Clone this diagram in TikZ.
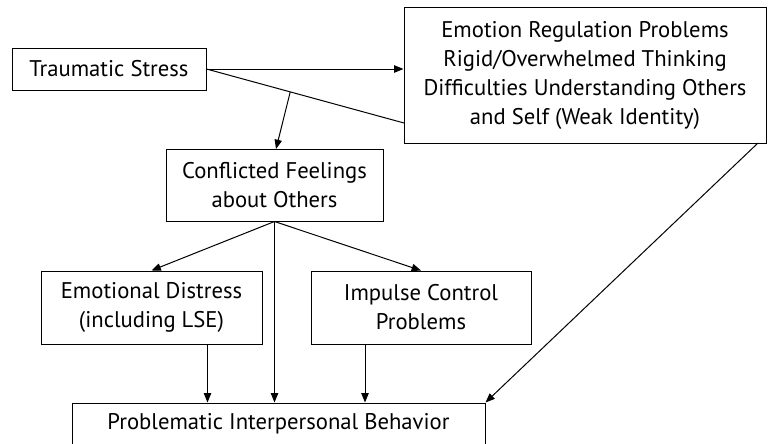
\documentclass[tikz,border=0pt]{standalone}
\usepackage{fontspec}
\setmainfont{PT Sans}
\usetikzlibrary{arrows.meta,calc}
\begin{document}
\begin{tikzpicture}[x=0.75pt,y=-0.75pt,
  box/.style={draw,line width=0.75pt,inner sep=0pt,align=center,font=\fontsize{17}{21.75}\selectfont},
  arr/.style={line width=0.75pt,-{Triangle[length=7pt,width=5.5pt]}},
  ln/.style={line width=0.75pt}]
\useasboundingbox (0,0) rectangle (768,443);
\node[box,minimum width=145.5pt,minimum height=31.5pt] (ts) at (109,69) {Traumatic Stress};
\node[box,minimum width=271.5pt,minimum height=102pt] (er) at (585,75) {Emotion Regulation Problems\\Rigid/Overwhelmed Thinking\\Difficulties Understanding Others\\and Self (Weak Identity)};
\node[box,minimum width=162.75pt,minimum height=54pt] (cf) at (274.5,185) {Conflicted Feelings\\about Others};
\node[box,minimum width=165.75pt,minimum height=54.75pt] (ed) at (151.5,307.5) {Emotional Distress\\(including LSE)};
\node[box,minimum width=165pt,minimum height=54.75pt] (ic) at (421,307.5) {Impulse Control\\Problems};
\node[box,minimum width=309.75pt,minimum height=31.5pt] (pb) at (278.5,424) {Problematic Interpersonal Behavior};
\coordinate (erlow) at (404,123);
\coordinate (mid) at ($(ts.east)!0.424!(erlow)$);
\coordinate (cft) at (276,149);
\coordinate (ert) at (758,143);
\draw[arr] (ts.east) -- (ts.east -| er.west);
\draw[ln] (ts.east) -- (erlow);
\draw[arr] (mid) -- (cft);
\draw[arr] (cf.south) -- (ed.north);
\draw[arr] (cf.south) -- (ic.north);
\draw[arr] (cf.south) -- (cf.south |- pb.north);
\draw[arr] ([xshift=42pt]ed.south) -- ([xshift=42pt]ed.south |- pb.north);
\draw[arr] ([xshift=-42pt]ic.south) -- ([xshift=-42pt]ic.south |- pb.north);
\draw[arr] (ert) -- (pb.north east);
\end{tikzpicture}
\end{document}
